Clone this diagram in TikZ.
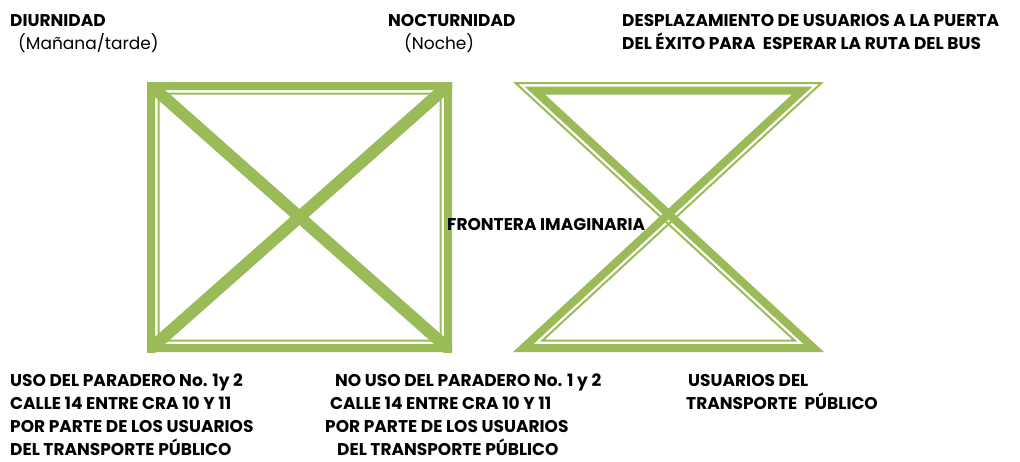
\documentclass[tikz,border=0pt]{standalone}
\usepackage{fontspec}
\setmainfont{Poppins}
\usetikzlibrary{calc}
\definecolor{olivo}{HTML}{9BBB59}

\begin{document}
\begin{tikzpicture}[x=1pt, y=-1pt,
    texto/.style={anchor=north west, inner sep=0pt, align=left,
                  font=\fontsize{17}{23.5}\selectfont},
    negrita/.style={texto, font=\fontsize{17}{23}\selectfont\bfseries}]
  \useasboundingbox (0,0) rectangle (1020,461);

  % cuadro: borde grueso afuera, delgado adentro, y la X
  \coordinate (c1) at (147,82);
  \coordinate (c2) at (452,352);
  \fill[olivo, even odd rule] (147,82) rectangle (452,352) (155,90) rectangle (444,344);
  \fill[olivo, even odd rule] (157.5,92.5) rectangle (441.5,341.5) (159.5,94.5) rectangle (439.5,339.5);
  \begin{scope}
    \clip (c1) rectangle (c2);
    \draw[olivo, line width=12pt] (c1) -- (c2) (c1 -| c2) -- (c1 |- c2);
  \end{scope}

  % reloj de arena: triangulo de arriba (a) y de abajo (b), 0 = incentro
  \coordinate (a1) at (513,82);  \coordinate (a2) at (824,82);  \coordinate (a3) at (668.5,225.5);
  \coordinate (a0) at (668.5,142.78);
  \coordinate (b1) at (513,352); \coordinate (b2) at (824,352); \coordinate (b3) at (668.5,208.5);
  \coordinate (b0) at (668.5,291.22);
  \foreach \t/\din/\dout in {a/0/2, a/4.5/12.5, b/0/8, b/10.5/12.5}
    \fill[olivo, even odd rule]
      ($(\t0)!{1-\din/60.78}!(\t1)$) -- ($(\t0)!{1-\din/60.78}!(\t2)$) -- ($(\t0)!{1-\din/60.78}!(\t3)$) -- cycle
      ($(\t0)!{1-\dout/60.78}!(\t1)$) -- ($(\t0)!{1-\dout/60.78}!(\t2)$) -- ($(\t0)!{1-\dout/60.78}!(\t3)$) -- cycle;

  % titulos
  \node[texto] (diurno) at (10,14) {\textbf{DIURNIDAD}\\\hspace*{8pt}(Mañana/tarde)};
  \node[texto] (nocturno) at (388,14) {\textbf{NOCTURNIDAD}\\\hspace*{16pt}(Noche)};
  \node[negrita] (desplaza) at (622,14) {DESPLAZAMIENTO DE USUARIOS A LA PUERTA\\DEL ÉXITO PARA\ \ ESPERAR LA RUTA DEL BUS};
  \node[negrita] (frontera) at (447,218) {FRONTERA IMAGINARIA};

  % textos de abajo
  \node[negrita] (uso) at (10,374) {USO DEL PARADERO No. 1y 2\\CALLE 14 ENTRE CRA 10 Y 11\\POR PARTE DE LOS USUARIOS\\DEL TRANSPORTE PÚBLICO};
  \node[negrita] (nouso) at (325,374) {\hspace*{10pt}NO USO DEL PARADERO No. 1 y 2\\\hspace*{5pt}CALLE 14 ENTRE CRA 10 Y 11\\POR PARTE DE LOS USUARIOS\\\hspace*{12pt}DEL TRANSPORTE PÚBLICO};
  \node[negrita] (usuarios) at (686,374) {\hspace*{2pt}USUARIOS DEL\\TRANSPORTE\ \ PÚBLICO};
\end{tikzpicture}
\end{document}
